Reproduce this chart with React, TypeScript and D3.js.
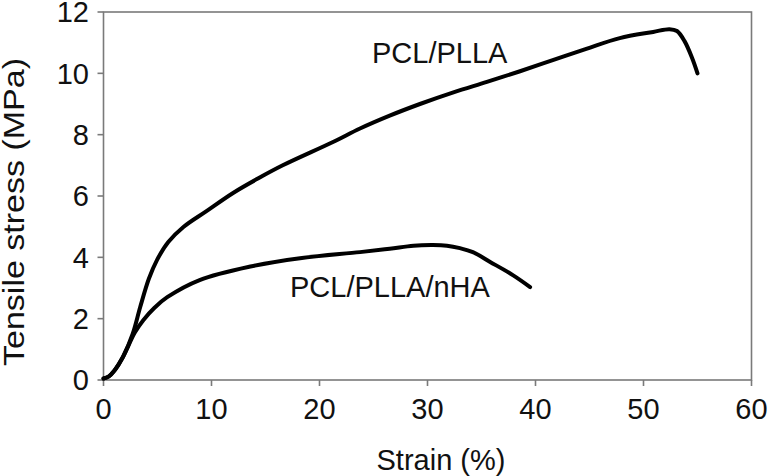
import React from "react";
import * as d3 from "d3";

const xTicks = [0, 10, 20, 30, 40, 50, 60];
const yTicks = [0, 2, 4, 6, 8, 10, 12];

const pclPllaStrain = [0, 0.5, 1.0, 1.8, 2.7, 3.4, 4.2, 4.95, 6.0, 7.4, 9.5, 12, 14.3, 16.6, 21.25, 23.75, 26.5, 29.3, 32.4, 35.5, 38.5, 41.6, 44.7, 47.8, 50.9, 52.4, 53.1, 53.8, 54.5, 55.0];
const pclPllaStress = [0.05, 0.12, 0.3, 0.75, 1.5, 2.38, 3.3, 3.91, 4.5, 4.99, 5.5, 6.1, 6.57, 7.0, 7.76, 8.2, 8.62, 9.0, 9.38, 9.72, 10.06, 10.43, 10.8, 11.15, 11.35, 11.44, 11.38, 11.05, 10.5, 10.0];

const nhaStrain = [0, 0.5, 1.0, 1.8, 2.9, 3.7, 4.7, 5.9, 8.9, 13.6, 18.2, 23.75, 26.5, 28.7, 30.5, 31.8, 33, 34.2, 35.8, 37.9, 39.5];
const nhaStress = [0.05, 0.12, 0.3, 0.75, 1.55, 1.96, 2.35, 2.7, 3.26, 3.7, 3.97, 4.17, 4.28, 4.38, 4.4, 4.38, 4.3, 4.17, 3.85, 3.42, 3.03];

const seriesLabels = ["PCL/PLLA", "PCL/PLLA/nHA"];

export default function App() {
  const W = 769, H = 476;
  const left = 103.5, right = 751.5, top = 12, bottom = 380;
  const x = d3.scaleLinear().domain([0, 60]).range([left, right]);
  const y = d3.scaleLinear().domain([0, 12]).range([bottom, top]);
  const line = d3
    .line<[number, number]>()
    .x((d) => x(d[0]))
    .y((d) => y(d[1]))
    .curve(d3.curveCatmullRom.alpha(0.5));
  const toPts = (xs: number[], ys: number[]) => xs.map((v, i) => [v, ys[i]] as [number, number]);
  const axisColor = "#7a7a7a";
  const font = "'Liberation Sans', Arial, sans-serif";
  const fs = 29;
  return (
    <svg width={W} height={H} style={{ position: "absolute", left: 0, top: 0, background: "#fff" }}>
      <rect x={left} y={top} width={right - left} height={bottom - top} fill="none" stroke={axisColor} strokeWidth={1.6} />
      {xTicks.map((t) => (
        <g key={"x" + t}>
          <line x1={x(t)} x2={x(t)} y1={bottom} y2={bottom + 6} stroke={axisColor} strokeWidth={1.6} />
          <text x={x(t)} y={419} textAnchor="middle" fontFamily={font} fontSize={fs} fill="#111">{t}</text>
        </g>
      ))}
      {yTicks.map((t) => (
        <g key={"y" + t}>
          <line x1={left - 6} x2={left} y1={y(t)} y2={y(t)} stroke={axisColor} strokeWidth={1.6} />
          <text x={89} y={y(t)} dy="0.36em" textAnchor="end" fontFamily={font} fontSize={fs} fill="#111">{t}</text>
        </g>
      ))}
      <path d={line(toPts(pclPllaStrain, pclPllaStress)) || ""} fill="none" stroke="#000" strokeWidth={4} strokeLinecap="round" strokeLinejoin="round" />
      <path d={line(toPts(nhaStrain, nhaStress)) || ""} fill="none" stroke="#000" strokeWidth={4} strokeLinecap="round" strokeLinejoin="round" />
      <text x={372} y={63} fontFamily={font} fontSize={fs} fill="#111">{seriesLabels[0]}</text>
      <text x={290} y={297} fontFamily={font} fontSize={fs} fill="#111">{seriesLabels[1]}</text>
      <text x={441} y={470} textAnchor="middle" fontFamily={font} fontSize={fs} fill="#111">Strain (%)</text>
      <text transform="translate(24,212) rotate(-90)" textAnchor="middle" fontFamily={font} fontSize={29} textLength={308} lengthAdjust="spacingAndGlyphs" fill="#111">Tensile stress (MPa)</text>
    </svg>
  );
}
